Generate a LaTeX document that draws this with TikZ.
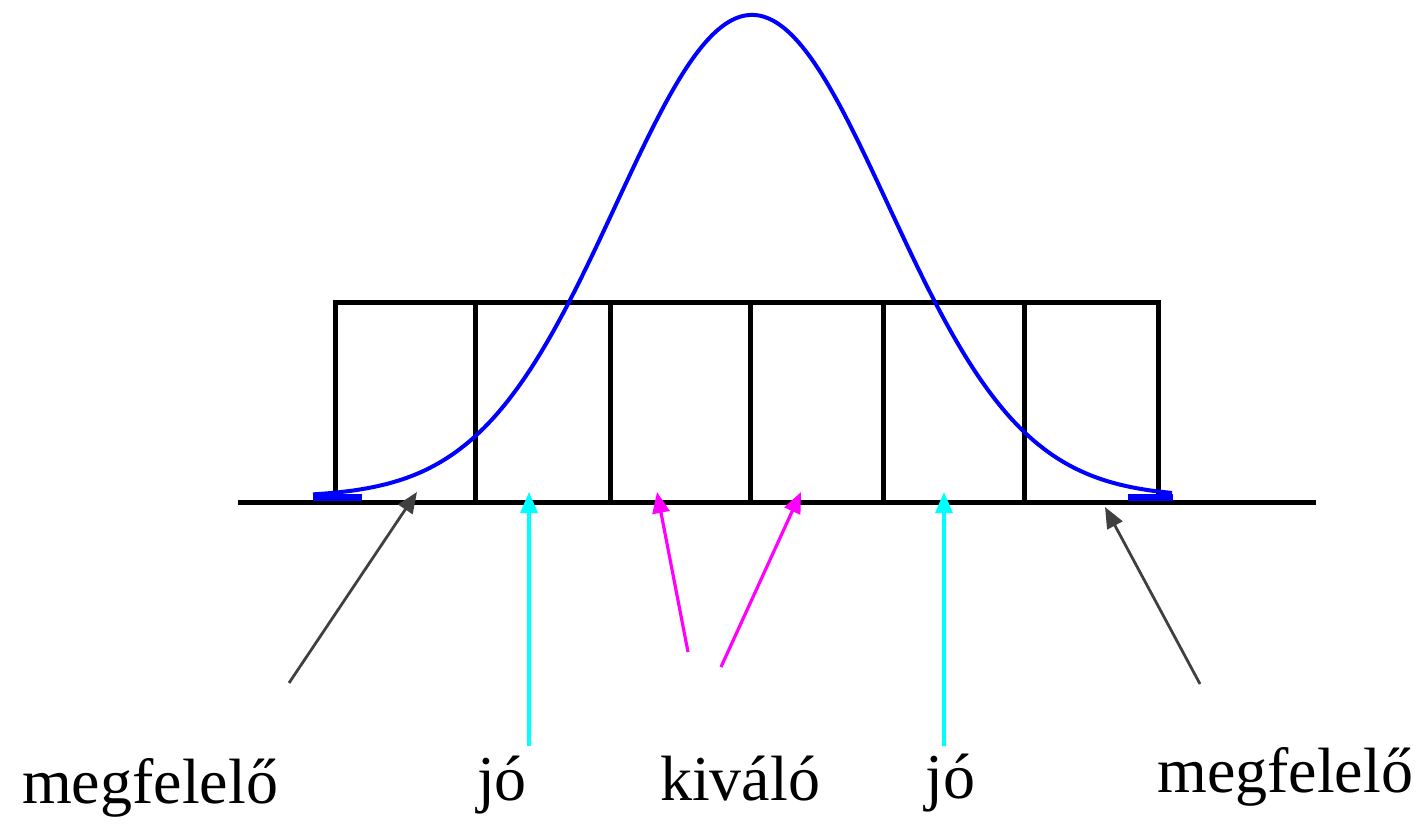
\documentclass[tikz,border=0pt]{standalone}
\usepackage{fontspec}
\setmainfont{Liberation Serif}
\usetikzlibrary{arrows.meta}
\definecolor{cyanrgb}{RGB}{0,255,255}
\definecolor{magentargb}{RGB}{255,0,255}
\definecolor{bluergb}{RGB}{0,0,255}
\definecolor{grayarrow}{RGB}{64,64,64}
\begin{document}
\begin{tikzpicture}[x=1pt,y=-1pt,
  frame/.style={line width=5pt,black,line cap=rect},
  curve/.style={line width=4pt,bluergb},
  curveend/.style={line width=7pt,bluergb},
  lbl/.style={inner sep=0pt,font=\fontsize{64}{70}\selectfont,anchor=base west},
  arrtip/.style={-{Triangle[length=21pt,width=17pt]}},
  grayarr/.style={arrtip,line width=2.8pt,draw=grayarrow,fill=grayarrow},
  cyanarr/.style={arrtip,line width=3.2pt,draw=cyanrgb,fill=cyanrgb},
  magarr/.style={arrtip,line width=3.2pt,draw=magentargb,fill=magentargb}]
\useasboundingbox (0,0) rectangle (1419,826);
% baseline and bars
\draw[frame] (240,502) -- (1313,502);
\draw[frame] (335,303) -- (1158,303);
\foreach \xx in {335,475,610,750,883,1024,1158}
  \draw[frame] (\xx,303) -- (\xx,502);
% bell curve
\draw[curve] plot[domain=313:1172,samples=160,smooth]
  (\x,{497-482*exp(-0.5*((\x-752)/136)*((\x-752)/136))});
\draw[curveend] (313,497) -- (362,497);
\draw[curveend] (1128,497) -- (1173,497);
% labels
\node[lbl] (m1) at (22,803) {megfelelő};
\node[lbl] (j1) at (477,800) {jó};
\node[lbl] (kv) at (660,800) {kiváló};
\node[lbl] (j2) at (925,798) {jó};
\node[lbl] (m2) at (1157,792) {megfelelő};
% arrow endpoints
\coordinate (g1s) at (289,683);
\coordinate (g1e) at (417,492);
\coordinate (c1s) at (529,746);
\coordinate (c1e) at (529,492);
\coordinate (p1s) at (688,652);
\coordinate (p1e) at (657,492);
\coordinate (p2s) at (721,667);
\coordinate (p2e) at (801,492);
\coordinate (c2s) at (944,746);
\coordinate (c2e) at (944,492);
\coordinate (g2s) at (1200,684);
\coordinate (g2e) at (1105,507);
% arrows
\draw[grayarr] (g1s) -- (g1e);
\draw[cyanarr] (c1s) -- (c1e);
\draw[magarr] (p1s) -- (p1e);
\draw[magarr] (p2s) -- (p2e);
\draw[cyanarr] (c2s) -- (c2e);
\draw[grayarr] (g2s) -- (g2e);
\end{tikzpicture}
\end{document}
